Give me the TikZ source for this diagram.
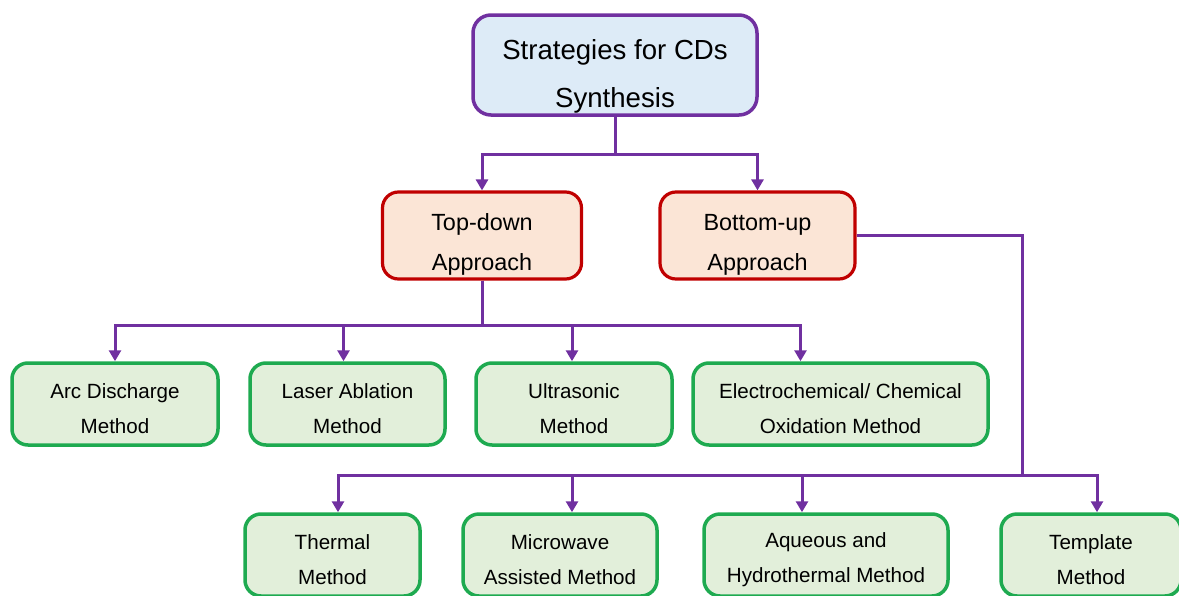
\documentclass[tikz,border=0pt]{standalone}
\usepackage{xcolor}
\usepackage{fontspec}
\setmainfont{Liberation Sans}
\usepackage{tikz}
\usetikzlibrary{arrows.meta,positioning}

\definecolor{lnpurple}{RGB}{112,48,160}
\definecolor{rootblue}{RGB}{221,235,247}
\definecolor{apfill}{RGB}{251,229,214}
\definecolor{apred}{RGB}{192,0,0}
\definecolor{mtgreen}{RGB}{30,170,80}
\definecolor{mtfill}{RGB}{226,239,218}

\begin{document}
\begin{tikzpicture}[x=0.5pt,y=-0.5pt,
	link/.style={lnpurple,line width=1.5pt},
	arr/.style={link,-{Triangle[width=6pt,length=5.5pt]}},
	rootbox/.style={draw=lnpurple,fill=rootblue,line width=1.75pt,rounded corners=9pt,minimum width=142pt,minimum height=50pt},
	apbox/.style={draw=apred,fill=apfill,line width=1.6pt,rounded corners=8pt,minimum height=43.5pt},
	mtbox/.style={draw=mtgreen,fill=mtfill,line width=1.75pt,rounded corners=8pt,minimum height=41pt},
	roottxt/.style={font=\fontsize{13.8}{24}\selectfont,align=center,yshift=-5.5pt},
	aptxt/.style={font=\fontsize{11.7}{20}\selectfont,align=center,yshift=-4.5pt},
	mttxt/.style={font=\fontsize{10.3}{17.5}\selectfont,align=center,yshift=-2.5pt}]
		\useasboundingbox (0,0) rectangle (1179,595);
		\clip (0,0) rectangle (1179,595);
		% main box
		\node[rootbox,label={[roottxt]center:{Strategies for CDs\\Synthesis}}] (root) at (615,65) {};
		% approaches
		\node[apbox,minimum width=99.5pt,label={[aptxt]center:{Top-down\\Approach}}] (td) at (482,235.5) {};
		\node[apbox,minimum width=97.5pt,label={[aptxt]center:{Bottom-up\\Approach}}] (bu) at (757.5,235.5) {};
		% top-down methods
		\node[mtbox,minimum width=103pt,label={[mttxt]center:{Arc Discharge\\Method}}] (arc) at (115,404) {};
		\node[mtbox,minimum width=97.5pt,label={[mttxt]center:{Laser Ablation\\Method}}] (laser) at (347.5,404) {};
		\node[mtbox,minimum width=98pt,label={[mttxt]center:{Ultrasonic\\Method}}] (ultra) at (574,404) {};
		\node[mtbox,minimum width=147.5pt,label={[mttxt]center:{Electrochemical/ Chemical\\Oxidation Method}}] (electro) at (840.5,404) {};
		% bottom-up methods
		\node[mtbox,minimum width=87.5pt,label={[mttxt]center:{Thermal\\Method}}] (thermal) at (332.5,555) {};
		\node[mtbox,minimum width=97pt,label={[mttxt]center:{Microwave\\Assisted Method}}] (micro) at (560,555) {};
		\node[mtbox,minimum width=122pt,label={[mttxt]center:{Aqueous and\\Hydrothermal Method}}] (aqueous) at (826,555) {};
		\node[mtbox,minimum width=90pt,label={[mttxt]center:{Template\\Method}}] (template) at (1091,555) {};
		% connectors
		\draw[arr] (root.south) -- ++(0,38) -| (td.north);
		\draw[arr] (root.south) -- ++(0,38) -| (bu.north);
		\draw[arr] (td.south) -- ++(0,45) -| (arc.north);
		\draw[arr] (td.south) -- ++(0,45) -| ([xshift=-2pt]laser.north);
		\draw[arr] (td.south) -- ++(0,45) -| ([xshift=-1pt]ultra.north);
		\draw[arr] (td.south) -- ++(0,45) -| ([xshift=-20pt]electro.north);
		\coordinate (bj) at (1022,475);
		\draw[link] (bu.east) -| (bj);
		\draw[arr] (bj) -| ([xshift=2.75pt]thermal.north);
		\draw[arr] (bj) -| ([xshift=6pt]micro.north);
		\draw[arr] (bj) -| ([xshift=-12pt]aqueous.north);
		\draw[arr] (bj) -| ([xshift=3pt]template.north);
\end{tikzpicture}
\end{document}
